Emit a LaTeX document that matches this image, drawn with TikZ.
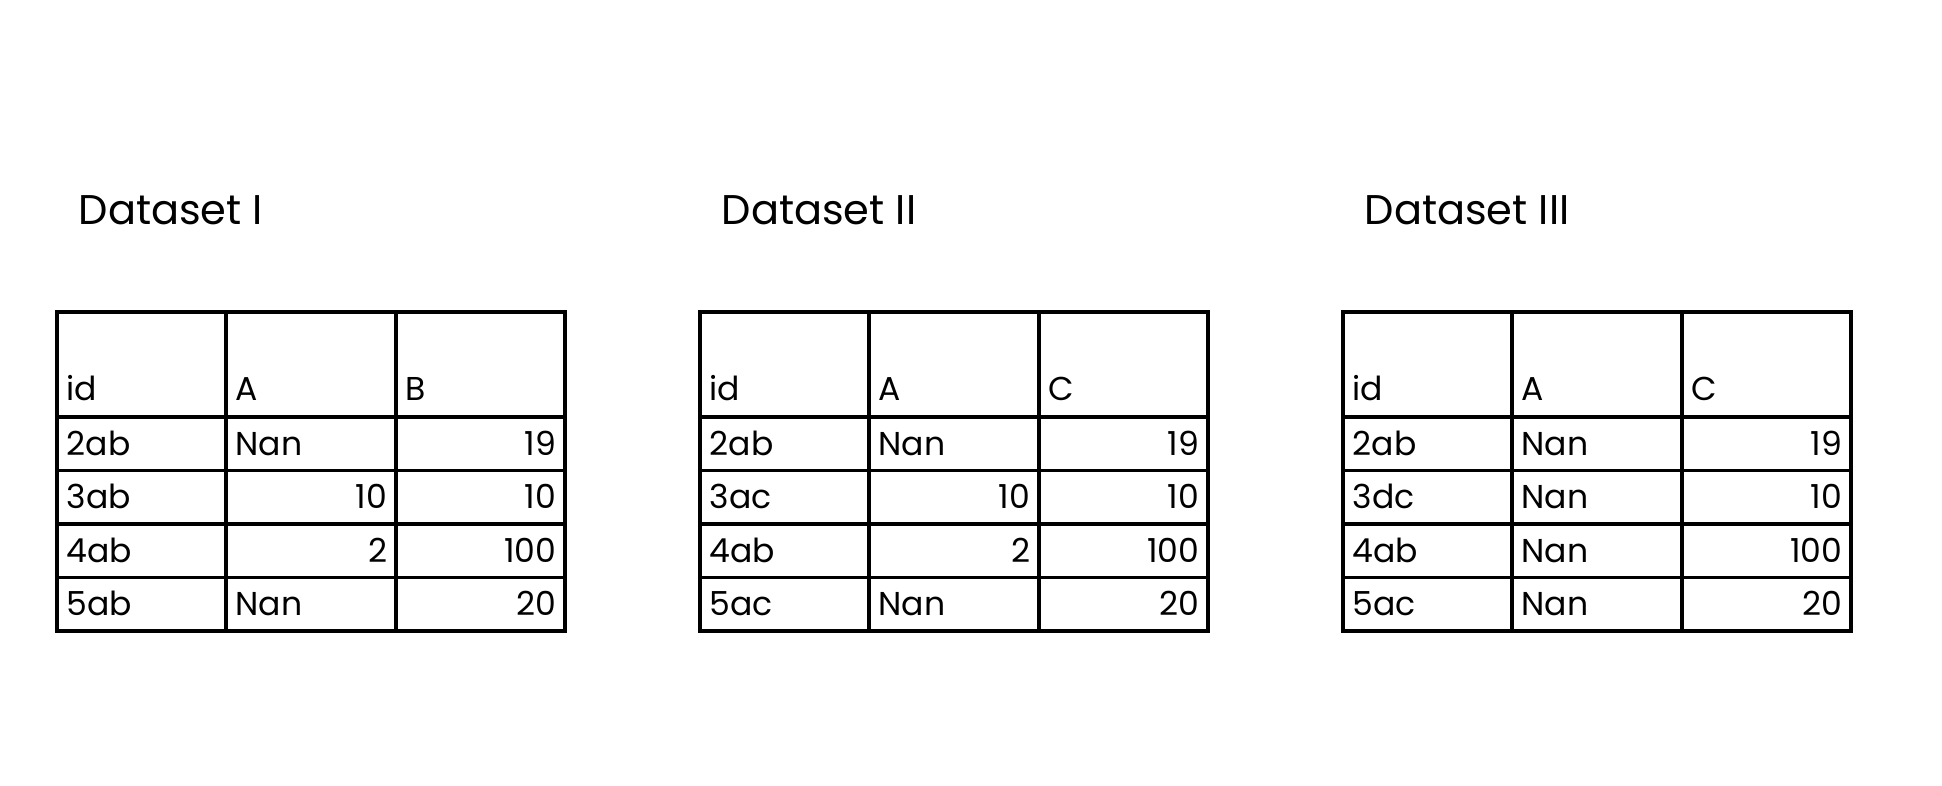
\documentclass[tikz,border=0pt]{standalone}
\usepackage{fontspec}
\setmainfont{Poppins}
\usepackage{tikz}
\usetikzlibrary{positioning, calc}

\tikzset{
  gridline/.style={line width=1pt, black},
  titletext/.style={anchor=base west, inner sep=0pt, font=\fontsize{11.8}{14}\selectfont},
  celltext/.style={inner sep=0pt, font=\fontsize{9.4}{11}\selectfont},
  lcell/.style={celltext, anchor=base west, xshift=0.09cm},
  rcell/.style={celltext, anchor=base east, xshift=-0.08cm}
}

% table frame with title and header: name, left x, title, last column
\newcommand{\datatable}[4]{%
  \node[titletext] (#1-title) at (#2+21,225) {#3};
  \draw[gridline] (#2,312) rectangle (#2+508,631);
  \foreach \yy in {417,470.5,524,577.5} {
    \draw[gridline] (#2,\yy) -- (#2+508,\yy);
  }
  \foreach \xx in {169,339} {
    \draw[gridline] (#2+\xx,312) -- (#2+\xx,631);
  }
  \node[lcell] (#1-h1) at (#2,401) {id};
  \node[lcell] (#1-h2) at (#2+169,401) {A};
  \node[lcell] (#1-h3) at (#2+339,401) {#4};
}

% one data row: name, left x, row, id, align of A (l/r), A, last value
\newcommand{\datarow}[7]{%
  \pgfmathsetmacro{\rowbase}{417+53.5*#3-15}
  \node[lcell] (#1-r#3-id) at (#2,\rowbase) {#4};
  \if l#5
    \node[lcell] (#1-r#3-a) at (#2+169,\rowbase) {#6};
  \else
    \node[rcell] (#1-r#3-a) at (#2+339,\rowbase) {#6};
  \fi
  \node[rcell] (#1-r#3-b) at (#2+508,\rowbase) {#7};
}

\begin{document}
\begin{tikzpicture}[x=0.01cm, y=-0.01cm]
\useasboundingbox (0,0) rectangle (1942,786);

% Dataset I
\datatable{d1}{57}{Dataset I}{B}
\datarow{d1}{57}{1}{2ab}{l}{Nan}{19}
\datarow{d1}{57}{2}{3ab}{r}{10}{10}
\datarow{d1}{57}{3}{4ab}{r}{2}{100}
\datarow{d1}{57}{4}{5ab}{l}{Nan}{20}

% Dataset II
\datatable{d2}{700}{Dataset II}{C}
\datarow{d2}{700}{1}{2ab}{l}{Nan}{19}
\datarow{d2}{700}{2}{3ac}{r}{10}{10}
\datarow{d2}{700}{3}{4ab}{r}{2}{100}
\datarow{d2}{700}{4}{5ac}{l}{Nan}{20}

% Dataset III
\datatable{d3}{1343}{Dataset III}{C}
\datarow{d3}{1343}{1}{2ab}{l}{Nan}{19}
\datarow{d3}{1343}{2}{3dc}{l}{Nan}{10}
\datarow{d3}{1343}{3}{4ab}{l}{Nan}{100}
\datarow{d3}{1343}{4}{5ac}{l}{Nan}{20}
\end{tikzpicture}
\end{document}
